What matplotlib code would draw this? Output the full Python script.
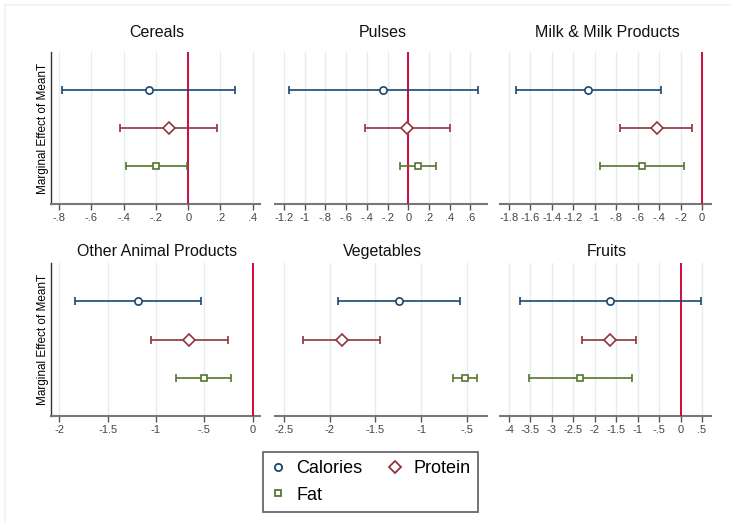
import numpy as np
import matplotlib.pyplot as plt
from matplotlib.lines import Line2D

plt.rcParams['font.family'] = ['Liberation Sans', 'DejaVu Sans']

# panels and their values (point estimate, lower and upper bound)
groups = ['Cereals', 'Pulses', 'Milk & Milk Products',
          'Other Animal Products', 'Vegetables', 'Fruits']
nutrients = ['Calories', 'Protein', 'Fat']

calEst = [-0.246, -0.242, -1.061, -1.189, -1.244, -1.646]
calLow = [-0.783, -1.147, -1.735, -1.834, -1.912, -3.753]
calHigh = [0.288, 0.670, -0.382, -0.538, -0.576, 0.476]

protEst = [-0.118, -0.010, -0.423, -0.656, -1.868, -1.646]
protLow = [-0.424, -0.415, -0.762, -1.049, -2.289, -2.291]
protHigh = [0.180, 0.399, -0.093, -0.252, -1.449, -1.033]

fatEst = [-0.199, 0.097, -0.557, -0.504, -0.518, -2.345]
fatLow = [-0.385, -0.084, -0.949, -0.797, -0.652, -3.534]
fatHigh = [-0.008, 0.271, -0.168, -0.221, -0.383, -1.133]

# tick values and labels per panel
tickVals = [
    [-0.8, -0.6, -0.4, -0.2, 0, 0.2, 0.4],
    [-1.2, -1, -0.8, -0.6, -0.4, -0.2, 0, 0.2, 0.4, 0.6],
    [-1.8, -1.6, -1.4, -1.2, -1, -0.8, -0.6, -0.4, -0.2, 0],
    [-2, -1.5, -1, -0.5, 0],
    [-2.5, -2, -1.5, -1, -0.5],
    [-4, -3.5, -3, -2.5, -2, -1.5, -1, -0.5, 0, 0.5],
]
tickLabels = [
    ['-.8', '-.6', '-.4', '-.2', '0', '.2', '.4'],
    ['-1.2', '-1', '-.8', '-.6', '-.4', '-.2', '0', '.2', '.4', '.6'],
    ['-1.8', '-1.6', '-1.4', '-1.2', '-1', '-.8', '-.6', '-.4', '-.2', '0'],
    ['-2', '-1.5', '-1', '-.5', '0'],
    ['-2.5', '-2', '-1.5', '-1', '-.5'],
    ['-4', '-3.5', '-3', '-2.5', '-2', '-1.5', '-1', '-.5', '0', '.5'],
]
xLims = [(-0.853, 0.445), (-1.287, 0.758), (-1.884, 0.084),
         (-2.089, 0.076), (-2.599, -0.281), (-4.21, 0.71)]

colors = ['#1a476f', '#90353b', '#55752f']
markers = ['o', 'D', 's']
msizes = [5.2, 6.3, 4.0]
gridColor = '#e4edef'
zeroColor = '#cf0a3c'

W, H = 731, 523
fig = plt.figure(figsize=(W / 100, H / 100), dpi=100)

# faint outer frame (top and left edges)
fig.add_artist(Line2D([5 / W, 5 / W], [0, 1 - 5 / H], color='#eef3f4', lw=1.2))
fig.add_artist(Line2D([5 / W, 1], [1 - 5 / H, 1 - 5 / H], color='#eef3f4', lw=1.2))

colLeft = [50.7, 275, 500]
colRight = [260, 486.7, 711]
rowTop = [52, 263.3]
rowBottom = [204, 415.7]
titleY = [32.3, 251.7]

for k, name in enumerate(groups):
    r, c = divmod(k, 3)
    ax = fig.add_axes([colLeft[c] / W, 1 - rowBottom[r] / H,
                       (colRight[c] - colLeft[c]) / W,
                       (rowBottom[r] - rowTop[r]) / H])
    ests = [calEst[k], protEst[k], fatEst[k]]
    lows = [calLow[k], protLow[k], fatLow[k]]
    highs = [calHigh[k], protHigh[k], fatHigh[k]]
    for i in range(3):
        y = 3 - i
        ax.errorbar([ests[i]], [y], xerr=[[ests[i] - lows[i]], [highs[i] - ests[i]]],
                    fmt=markers[i], color=colors[i], ms=msizes[i], mfc='white',
                    mec=colors[i], mew=1.2, elinewidth=1.2, capsize=3.2,
                    capthick=1.2, zorder=4)
    lo, hi = xLims[k]
    if lo < 0 < hi:
        ax.axvline(0, color=zeroColor, lw=1.4, zorder=3)
    ax.set_xlim(lo, hi)
    ax.set_ylim(0, 4)
    ax.set_xticks(tickVals[k])
    ax.set_xticklabels(tickLabels[k])
    ax.xaxis.grid(True, color=gridColor, lw=1.0, zorder=0)
    ax.set_axisbelow(True)
    ax.tick_params(axis='x', length=4.5, width=1.0, color='#555555',
                   labelsize=8, labelcolor='#444444', pad=2)
    ax.set_yticks([])
    for s in ['top', 'right']:
        ax.spines[s].set_visible(False)
    ax.spines['bottom'].set_color('#777777')
    ax.spines['bottom'].set_linewidth(1.5)
    if c == 0:
        ax.spines['left'].set_color('#333333')
        ax.spines['left'].set_linewidth(1.0)
        ax.set_ylabel('Marginal Effect of MeanT', fontsize=8.5, labelpad=1.5)
    else:
        ax.spines['left'].set_visible(False)
    fig.text((colLeft[c] + colRight[c]) / 2 / W + 0.002, 1 - titleY[r] / H, name,
             ha='center', va='center', fontsize=11.5, color='#111111')

handles = [Line2D([], [], ls='none', marker=markers[i], color=colors[i], ms=msizes[i],
                  mfc='white', mew=1.3) for i in range(3)]
# column-major fill: Calories, Fat in col 1; Protein in col 2
leg = fig.legend([handles[0], handles[2], handles[1]],
                 [nutrients[0], nutrients[2], nutrients[1]],
                 ncol=2, loc='center', bbox_to_anchor=(370.7 / W, 1 - 482 / H),
                 fontsize=13, frameon=True, fancybox=False, edgecolor='#444444',
                 handlelength=0.8, handletextpad=0.6, columnspacing=1.4,
                 labelspacing=0.5, borderpad=0.45, borderaxespad=0)
leg.get_frame().set_linewidth(1.3)

fig.savefig('out.png', dpi=100)
